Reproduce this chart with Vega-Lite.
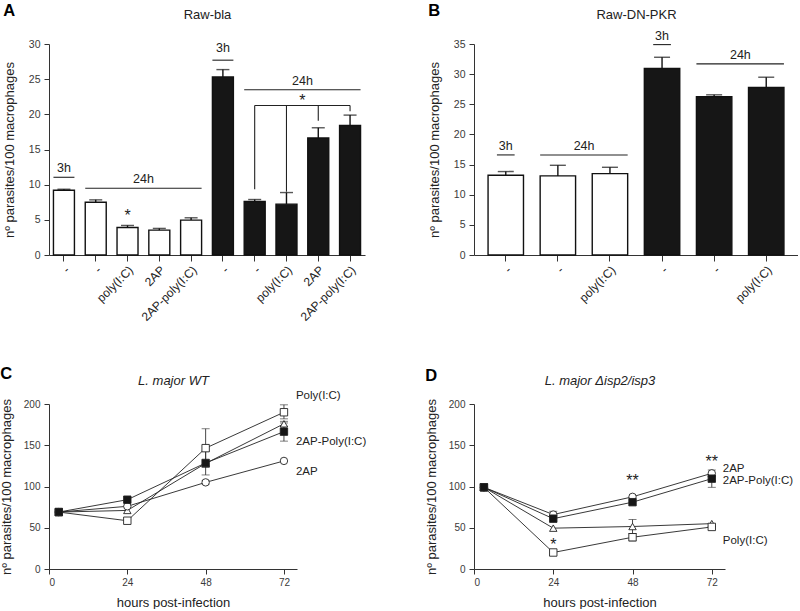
{
  "$schema": "https://vega.github.io/schema/vega-lite/v6.json",
  "background": "white",
  "padding": {"left": 0, "top": 2, "right": 0, "bottom": 0},
  "config": {
    "font": "Liberation Sans",
    "view": {"stroke": null},
    "axis": {"grid": false, "domainColor": "#333", "tickColor": "#333", "labelColor": "#3a3a3a", "titleColor": "#222", "labelFont": "Liberation Sans", "titleFont": "Liberation Sans", "titleFontWeight": "normal", "labelFontSize": 10, "titleFontSize": 13, "domainWidth": 1, "tickWidth": 1, "tickSize": 5, "labelPadding": 4},
    "title": {"font": "Liberation Sans", "fontSize": 16.5, "fontWeight": "bold", "anchor": "start", "frame": "bounds", "color": "black"}
  },
  "resolve": {"scale": {"fill": "independent", "shape": "independent"}},
  "datasets": {
    "barsA": [
      {"id": "01|-", "v": 9.21, "hi": 9.35, "g": "w"},
      {"id": "02|-", "v": 7.51, "hi": 7.84, "g": "w"},
      {"id": "03|poly(I:C)", "v": 3.92, "hi": 4.2, "g": "w"},
      {"id": "04|2AP", "v": 3.54, "hi": 3.78, "g": "w"},
      {"id": "05|2AP-poly(I:C)", "v": 4.96, "hi": 5.29, "g": "w"},
      {"id": "06|-", "v": 25.32, "hi": 26.36, "g": "k"},
      {"id": "07|-", "v": 7.6, "hi": 7.89, "g": "k"},
      {"id": "08|poly(I:C)", "v": 7.23, "hi": 8.88, "g": "k"},
      {"id": "09|2AP", "v": 16.63, "hi": 18.09, "g": "k"},
      {"id": "10|2AP-poly(I:C)", "v": 18.42, "hi": 19.89, "g": "k"}
    ],
    "spanA": [
      {"id": "01|-", "id2": "01|-", "y": 11.05},
      {"id": "02|-", "id2": "05|2AP-poly(I:C)", "y": 9.5},
      {"id": "06|-", "id2": "06|-", "y": 27.7},
      {"id": "07|-", "id2": "10|2AP-poly(I:C)", "y": 23.5}
    ],
    "tbandA": [
      {"id": "01|-", "y": 11.86, "t": "3h"},
      {"id": "06|-", "y": 28.86, "t": "3h"}
    ],
    "tgapA": [
      {"id": "03|poly(I:C)", "y": 10.3, "t": "24h"},
      {"id": "08|poly(I:C)", "y": 24.23, "t": "24h"}
    ],
    "starbandA": [{"id": "03|poly(I:C)", "y": 4.82, "t": "*"}],
    "stargapA": [{"id": "08|poly(I:C)", "y": 21.16, "t": "*"}],
    "brackHA": [{"id": "07|-", "id2": "10|2AP-poly(I:C)", "y": 21.26}],
    "brackVA": [
      {"id": "07|-", "y": 21.26, "y2": 9.35},
      {"id": "08|poly(I:C)", "y": 21.26, "y2": 9.0},
      {"id": "09|2AP", "y": 21.26, "y2": 19.1},
      {"id": "10|2AP-poly(I:C)", "y": 21.26, "y2": 20.45}
    ],
    "barsB": [
      {"id": "01|-", "v": 13.23, "hi": 13.84, "g": "w"},
      {"id": "02|-", "v": 13.12, "hi": 14.88, "g": "w"},
      {"id": "03|poly(I:C)", "v": 13.5, "hi": 14.55, "g": "w"},
      {"id": "04|-", "v": 30.93, "hi": 32.8, "g": "k"},
      {"id": "05|-", "v": 26.24, "hi": 26.57, "g": "k"},
      {"id": "06|poly(I:C)", "v": 27.78, "hi": 29.49, "g": "k"}
    ],
    "narrowB": [
      {"id": "01|-", "id2": "01|-", "y": 16.6},
      {"id": "04|-", "id2": "04|-", "y": 34.9}
    ],
    "spanB": [
      {"id": "02|-", "id2": "03|poly(I:C)", "y": 16.6},
      {"id": "05|-", "id2": "06|poly(I:C)", "y": 31.7}
    ],
    "tbandB": [
      {"id": "01|-", "y": 17.42, "t": "3h"},
      {"id": "04|-", "y": 35.7, "t": "3h"}
    ],
    "tgapB": [
      {"id": "02|-", "y": 17.42, "t": "24h"},
      {"id": "05|-", "y": 32.58, "t": "24h"}
    ],
    "lineC": [
      {"s": "-", "h": 3, "v": 69}, {"s": "-", "h": 24, "v": 71}, {"s": "-", "h": 48, "v": 128}, {"s": "-", "h": 72, "v": 176},
      {"s": "2AP", "h": 3, "v": 69}, {"s": "2AP", "h": 24, "v": 76}, {"s": "2AP", "h": 48, "v": 105}, {"s": "2AP", "h": 72, "v": 131},
      {"s": "Poly(I:C)", "h": 3, "v": 69}, {"s": "Poly(I:C)", "h": 24, "v": 58.5}, {"s": "Poly(I:C)", "h": 48, "v": 146.5}, {"s": "Poly(I:C)", "h": 72, "v": 190},
      {"s": "2AP-Poly(I:C)", "h": 3, "v": 69}, {"s": "2AP-Poly(I:C)", "h": 24, "v": 84}, {"s": "2AP-Poly(I:C)", "h": 48, "v": 128.5}, {"s": "2AP-Poly(I:C)", "h": 72, "v": 166.5}
    ],
    "errC": [
      {"s": "Poly(I:C)", "h": 48, "lo": 123, "hi": 170},
      {"s": "Poly(I:C)", "h": 72, "lo": 182, "hi": 199},
      {"s": "2AP-Poly(I:C)", "h": 48, "lo": 114, "hi": 143},
      {"s": "2AP-Poly(I:C)", "h": 72, "lo": 155, "hi": 177},
      {"s": "-", "h": 72, "lo": 173, "hi": 179},
      {"s": "2AP", "h": 48, "lo": 103, "hi": 107}
    ],
    "labC": [
      {"t": "Poly(I:C)", "y": 210},
      {"t": "2AP-Poly(I:C)", "y": 154},
      {"t": "2AP", "y": 117}
    ],
    "lineD": [
      {"s": "-", "h": 3, "v": 99}, {"s": "-", "h": 24, "v": 49.5}, {"s": "-", "h": 48, "v": 51.5}, {"s": "-", "h": 72, "v": 55},
      {"s": "Poly(I:C)", "h": 3, "v": 99}, {"s": "Poly(I:C)", "h": 24, "v": 20}, {"s": "Poly(I:C)", "h": 48, "v": 38.5}, {"s": "Poly(I:C)", "h": 72, "v": 51},
      {"s": "2AP", "h": 3, "v": 99}, {"s": "2AP", "h": 24, "v": 66}, {"s": "2AP", "h": 48, "v": 87.5}, {"s": "2AP", "h": 72, "v": 116},
      {"s": "2AP-Poly(I:C)", "h": 3, "v": 99}, {"s": "2AP-Poly(I:C)", "h": 24, "v": 61}, {"s": "2AP-Poly(I:C)", "h": 48, "v": 81}, {"s": "2AP-Poly(I:C)", "h": 72, "v": 109.5}
    ],
    "errD": [
      {"s": "2AP", "h": 24, "lo": 63, "hi": 70},
      {"s": "2AP", "h": 72, "lo": 112, "hi": 120},
      {"s": "2AP-Poly(I:C)", "h": 72, "lo": 99, "hi": 112},
      {"s": "-", "h": 48, "lo": 43, "hi": 60},
      {"s": "Poly(I:C)", "h": 48, "lo": 34, "hi": 43},
      {"s": "-", "h": 3, "lo": 95, "hi": 103}
    ],
    "labD": [
      {"t": "2AP", "y": 121},
      {"t": "2AP-Poly(I:C)", "y": 107},
      {"t": "Poly(I:C)", "y": 34.3}
    ],
    "starsD": [
      {"h": 24, "y": 23.4, "t": "*"},
      {"h": 48, "y": 100.3, "t": "**"},
      {"h": 72, "y": 123.3, "t": "**"}
    ]
  },
  "columns": 2,
  "bounds": "flush",
  "spacing": {"row": 149, "column": 109},
  "concat": [
    {
      "title": {"text": "A", "offset": -11},
      "width": 316,
      "height": 211,
      "resolve": {"axis": {"y": "independent"}},
      "layer": [
        {
          "data": {"name": "barsA"},
          "mark": {"type": "bar", "stroke": "#111", "strokeWidth": 1.4},
          "encoding": {
            "x": {"field": "id", "type": "nominal", "scale": {"domain": ["01|-", "02|-", "03|poly(I:C)", "04|2AP", "05|2AP-poly(I:C)", "06|-", "07|-", "08|poly(I:C)", "09|2AP", "10|2AP-poly(I:C)"], "paddingInner": 0.34, "paddingOuter": 0.14}, "axis": {"orient": "bottom", "title": null, "labelAngle": -45, "labelFontSize": 12, "labelColor": "#222", "labelExpr": "slice(datum.value, 3)", "tickSize": 6, "labelPadding": 3, "domainWidth": 1.2}},
            "y": {"field": "v", "type": "quantitative", "scale": {"domain": [0, 30], "nice": false}, "axis": {"orient": "left", "values": [0, 5, 10, 15, 20, 25, 30], "labelFontSize": 10.5, "title": "nº parasites/100 macrophages", "titlePadding": 12}},
            "fill": {"field": "g", "type": "nominal", "scale": {"domain": ["w", "k"], "range": ["white", "#161616"]}, "legend": null}
          }
        },
        {
          "data": {"name": "barsA"},
          "mark": {"type": "rule", "color": "#111", "strokeWidth": 1.4},
          "encoding": {
            "x": {"field": "id", "type": "nominal", "axis": null},
            "y": {"field": "v", "type": "quantitative", "axis": null},
            "y2": {"field": "hi"}
          }
        },
        {
          "data": {"name": "barsA"},
          "mark": {"type": "tick", "color": "#111", "thickness": 1.4, "size": 13},
          "encoding": {
            "x": {"field": "id", "type": "nominal", "axis": null},
            "y": {"field": "hi", "type": "quantitative", "axis": null}
          }
        },
        {
          "data": {"name": "spanA"},
          "mark": {"type": "rule", "color": "#222", "strokeWidth": 1.1},
          "encoding": {
            "x": {"field": "id", "type": "nominal", "bandPosition": 0, "axis": null},
            "x2": {"field": "id2", "bandPosition": 1},
            "y": {"field": "y", "type": "quantitative", "axis": null}
          }
        },
        {
          "data": {"name": "brackHA"},
          "mark": {"type": "rule", "color": "#222", "strokeWidth": 1.1},
          "encoding": {
            "x": {"field": "id", "type": "nominal", "bandPosition": 0.5, "axis": null},
            "x2": {"field": "id2", "bandPosition": 0.5},
            "y": {"field": "y", "type": "quantitative", "axis": null}
          }
        },
        {
          "data": {"name": "brackVA"},
          "mark": {"type": "rule", "color": "#222", "strokeWidth": 1.1},
          "encoding": {
            "x": {"field": "id", "type": "nominal", "bandPosition": 0.5, "axis": null},
            "y": {"field": "y", "type": "quantitative", "axis": null},
            "y2": {"field": "y2"}
          }
        },
        {
          "data": {"name": "tbandA"},
          "mark": {"type": "text", "fontSize": 12.5, "baseline": "alphabetic", "color": "#222"},
          "encoding": {
            "x": {"field": "id", "type": "nominal", "bandPosition": 0.5, "axis": {"orient": "top", "title": "Raw-bla", "labels": false, "ticks": false, "domain": false, "titleFontSize": 13, "titlePadding": 23}},
            "y": {"field": "y", "type": "quantitative", "axis": null},
            "text": {"field": "t"}
          }
        },
        {
          "data": {"name": "tgapA"},
          "mark": {"type": "text", "fontSize": 12.5, "baseline": "alphabetic", "color": "#222"},
          "encoding": {
            "x": {"field": "id", "type": "nominal", "bandPosition": 1.26, "axis": null},
            "y": {"field": "y", "type": "quantitative", "axis": null},
            "text": {"field": "t"}
          }
        },
        {
          "data": {"name": "starbandA"},
          "mark": {"type": "text", "fontSize": 16, "baseline": "alphabetic", "color": "#222"},
          "encoding": {
            "x": {"field": "id", "type": "nominal", "bandPosition": 0.5, "axis": null},
            "y": {"field": "y", "type": "quantitative", "axis": null},
            "text": {"field": "t"}
          }
        },
        {
          "data": {"name": "stargapA"},
          "mark": {"type": "text", "fontSize": 16, "baseline": "alphabetic", "color": "#222"},
          "encoding": {
            "x": {"field": "id", "type": "nominal", "bandPosition": 1.26, "axis": null},
            "y": {"field": "y", "type": "quantitative", "axis": null},
            "text": {"field": "t"}
          }
        }
      ]
    },
    {
      "title": {"text": "B", "offset": -11},
      "width": 324,
      "height": 211,
      "resolve": {"axis": {"y": "independent"}},
      "layer": [
        {
          "data": {"name": "barsB"},
          "mark": {"type": "bar", "stroke": "#111", "strokeWidth": 1.4},
          "encoding": {
            "x": {"field": "id", "type": "nominal", "scale": {"domain": ["01|-", "02|-", "03|poly(I:C)", "04|-", "05|-", "06|poly(I:C)"], "paddingInner": 0.32, "paddingOuter": 0.27}, "axis": {"orient": "bottom", "title": null, "labelAngle": -45, "labelFontSize": 12, "labelColor": "#222", "labelExpr": "slice(datum.value, 3)", "tickSize": 6, "labelPadding": 3, "domainWidth": 1.2}},
            "y": {"field": "v", "type": "quantitative", "scale": {"domain": [0, 35], "nice": false}, "axis": {"orient": "left", "values": [0, 5, 10, 15, 20, 25, 30, 35], "labelFontSize": 10.5, "title": "nº parasites/100 macrophages", "titlePadding": 12}},
            "fill": {"field": "g", "type": "nominal", "scale": {"domain": ["w", "k"], "range": ["white", "#161616"]}, "legend": null}
          }
        },
        {
          "data": {"name": "barsB"},
          "mark": {"type": "rule", "color": "#111", "strokeWidth": 1.4},
          "encoding": {
            "x": {"field": "id", "type": "nominal", "axis": null},
            "y": {"field": "v", "type": "quantitative", "axis": null},
            "y2": {"field": "hi"}
          }
        },
        {
          "data": {"name": "barsB"},
          "mark": {"type": "tick", "color": "#111", "thickness": 1.4, "size": 16},
          "encoding": {
            "x": {"field": "id", "type": "nominal", "axis": null},
            "y": {"field": "hi", "type": "quantitative", "axis": null}
          }
        },
        {
          "data": {"name": "narrowB"},
          "mark": {"type": "rule", "color": "#222", "strokeWidth": 1.1},
          "encoding": {
            "x": {"field": "id", "type": "nominal", "bandPosition": 0.25, "axis": null},
            "x2": {"field": "id2", "bandPosition": 0.75},
            "y": {"field": "y", "type": "quantitative", "axis": null}
          }
        },
        {
          "data": {"name": "spanB"},
          "mark": {"type": "rule", "color": "#222", "strokeWidth": 1.1},
          "encoding": {
            "x": {"field": "id", "type": "nominal", "bandPosition": 0, "axis": null},
            "x2": {"field": "id2", "bandPosition": 1},
            "y": {"field": "y", "type": "quantitative", "axis": null}
          }
        },
        {
          "data": {"name": "tbandB"},
          "mark": {"type": "text", "fontSize": 12.5, "baseline": "alphabetic", "color": "#222"},
          "encoding": {
            "x": {"field": "id", "type": "nominal", "bandPosition": 0.5, "axis": {"orient": "top", "title": "Raw-DN-PKR", "labels": false, "ticks": false, "domain": false, "titleFontSize": 13, "titlePadding": 23}},
            "y": {"field": "y", "type": "quantitative", "axis": null},
            "text": {"field": "t"}
          }
        },
        {
          "data": {"name": "tgapB"},
          "mark": {"type": "text", "fontSize": 12.5, "baseline": "alphabetic", "color": "#222"},
          "encoding": {
            "x": {"field": "id", "type": "nominal", "bandPosition": 1.24, "axis": null},
            "y": {"field": "y", "type": "quantitative", "axis": null},
            "text": {"field": "t"}
          }
        }
      ]
    },
    {
      "title": {"text": "C", "offset": -8.5},
      "width": 248,
      "height": 165,
      "resolve": {"axis": {"y": "independent"}},
      "layer": [
        {
          "data": {"name": "lineC"},
          "mark": {"type": "line", "color": "#222", "strokeWidth": 0.9},
          "encoding": {
            "x": {"field": "h", "type": "quantitative", "scale": {"domain": [0, 76], "nice": false}, "axis": {"orient": "bottom", "values": [0, 24, 48, 72], "title": "hours post-infection", "titlePadding": 9, "labelPadding": 3}},
            "y": {"field": "v", "type": "quantitative", "scale": {"domain": [0, 200], "nice": false}, "axis": {"orient": "left", "values": [0, 50, 100, 150, 200], "title": "nº parasites/100 macrophages", "titlePadding": 10}},
            "detail": {"field": "s"},
            "order": {"field": "h"}
          }
        },
        {
          "data": {"name": "errC"},
          "mark": {"type": "rule", "color": "#333", "strokeWidth": 0.9},
          "encoding": {
            "x": {"field": "h", "type": "quantitative", "axis": null},
            "y": {"field": "lo", "type": "quantitative", "axis": null},
            "y2": {"field": "hi"}
          }
        },
        {
          "data": {"name": "errC"},
          "mark": {"type": "tick", "orient": "horizontal", "color": "#333", "thickness": 0.9, "size": 8},
          "encoding": {
            "x": {"field": "h", "type": "quantitative", "axis": null},
            "y": {"field": "lo", "type": "quantitative", "axis": null}
          }
        },
        {
          "data": {"name": "errC"},
          "mark": {"type": "tick", "orient": "horizontal", "color": "#333", "thickness": 0.9, "size": 8},
          "encoding": {
            "x": {"field": "h", "type": "quantitative", "axis": null},
            "y": {"field": "hi", "type": "quantitative", "axis": null}
          }
        },
        {
          "data": {"name": "lineC"},
          "mark": {"type": "point", "filled": true, "stroke": "#222", "strokeWidth": 0.9, "size": 55, "opacity": 1},
          "encoding": {
            "x": {"field": "h", "type": "quantitative", "axis": null},
            "y": {"field": "v", "type": "quantitative", "axis": null},
            "shape": {"field": "s", "type": "nominal", "scale": {"domain": ["-", "2AP", "Poly(I:C)", "2AP-Poly(I:C)"], "range": ["triangle-up", "circle", "square", "square"]}, "legend": null},
            "fill": {"field": "s", "type": "nominal", "scale": {"domain": ["-", "2AP", "Poly(I:C)", "2AP-Poly(I:C)"], "range": ["white", "white", "white", "#161616"]}, "legend": null}
          }
        },
        {
          "data": {"name": "labC"},
          "mark": {"type": "text", "fontSize": 11.5, "align": "left", "baseline": "middle", "dx": 12, "color": "#222"},
          "encoding": {
            "x": {"datum": 72, "type": "quantitative", "axis": {"orient": "top", "title": "L. major WT", "titleFontStyle": "italic", "labels": false, "ticks": false, "domain": false, "titleFontSize": 13, "titlePadding": 17}},
            "y": {"field": "y", "type": "quantitative", "axis": null},
            "text": {"field": "t"}
          }
        }
      ]
    },
    {
      "title": {"text": "D", "offset": -10},
      "width": 251,
      "height": 165,
      "resolve": {"axis": {"y": "independent"}},
      "layer": [
        {
          "data": {"name": "lineD"},
          "mark": {"type": "line", "color": "#222", "strokeWidth": 0.9},
          "encoding": {
            "x": {"field": "h", "type": "quantitative", "scale": {"domain": [0, 76], "nice": false}, "axis": {"orient": "bottom", "values": [0, 24, 48, 72], "title": "hours post-infection", "titlePadding": 9, "labelPadding": 3}},
            "y": {"field": "v", "type": "quantitative", "scale": {"domain": [0, 200], "nice": false}, "axis": {"orient": "left", "values": [0, 50, 100, 150, 200], "title": "nº parasites/100 macrophages", "titlePadding": 10}},
            "detail": {"field": "s"},
            "order": {"field": "h"}
          }
        },
        {
          "data": {"name": "errD"},
          "mark": {"type": "rule", "color": "#333", "strokeWidth": 0.9},
          "encoding": {
            "x": {"field": "h", "type": "quantitative", "axis": null},
            "y": {"field": "lo", "type": "quantitative", "axis": null},
            "y2": {"field": "hi"}
          }
        },
        {
          "data": {"name": "errD"},
          "mark": {"type": "tick", "orient": "horizontal", "color": "#333", "thickness": 0.9, "size": 8},
          "encoding": {
            "x": {"field": "h", "type": "quantitative", "axis": null},
            "y": {"field": "lo", "type": "quantitative", "axis": null}
          }
        },
        {
          "data": {"name": "errD"},
          "mark": {"type": "tick", "orient": "horizontal", "color": "#333", "thickness": 0.9, "size": 8},
          "encoding": {
            "x": {"field": "h", "type": "quantitative", "axis": null},
            "y": {"field": "hi", "type": "quantitative", "axis": null}
          }
        },
        {
          "data": {"name": "lineD"},
          "mark": {"type": "point", "filled": true, "stroke": "#222", "strokeWidth": 0.9, "size": 55, "opacity": 1},
          "encoding": {
            "x": {"field": "h", "type": "quantitative", "axis": null},
            "y": {"field": "v", "type": "quantitative", "axis": null},
            "shape": {"field": "s", "type": "nominal", "scale": {"domain": ["-", "2AP", "Poly(I:C)", "2AP-Poly(I:C)"], "range": ["triangle-up", "circle", "square", "square"]}, "legend": null},
            "fill": {"field": "s", "type": "nominal", "scale": {"domain": ["-", "2AP", "Poly(I:C)", "2AP-Poly(I:C)"], "range": ["white", "white", "white", "#161616"]}, "legend": null}
          }
        },
        {
          "data": {"name": "starsD"},
          "mark": {"type": "text", "fontSize": 16, "baseline": "alphabetic", "color": "#222"},
          "encoding": {
            "x": {"field": "h", "type": "quantitative", "axis": null},
            "y": {"field": "y", "type": "quantitative", "axis": null},
            "text": {"field": "t"}
          }
        },
        {
          "data": {"name": "labD"},
          "mark": {"type": "text", "fontSize": 11.5, "align": "left", "baseline": "middle", "dx": 11, "color": "#222"},
          "encoding": {
            "x": {"datum": 72, "type": "quantitative", "axis": {"orient": "top", "title": "L. major Δisp2/isp3", "titleFontStyle": "italic", "labels": false, "ticks": false, "domain": false, "titleFontSize": 13, "titlePadding": 17}},
            "y": {"field": "y", "type": "quantitative", "axis": null},
            "text": {"field": "t"}
          }
        }
      ]
    }
  ]
}
